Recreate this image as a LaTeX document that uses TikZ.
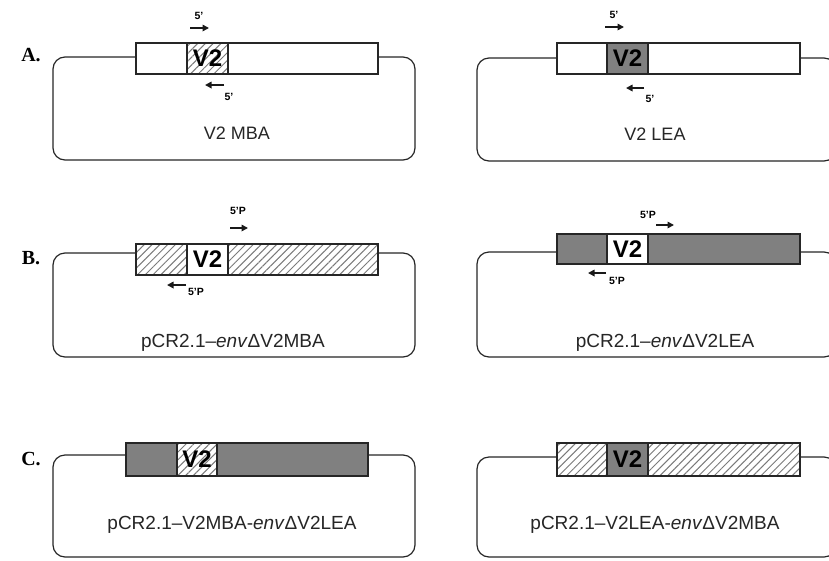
\documentclass[tikz,border=0pt]{standalone}
\usepackage{fontspec}
\setmainfont{Liberation Sans}
\newfontfamily\serifb{Liberation Serif}
\usetikzlibrary{patterns.meta,arrows.meta}
\definecolor{dgray}{HTML}{808080}
\definecolor{hgray}{HTML}{7A7A7A}
\tikzset{
  plasmid/.style={draw=black!85, line width=1.2pt, rounded corners=12pt, inner sep=0pt, outer sep=0pt, fill=white},
  seg/.style={draw=black!85, line width=1.8pt, inner sep=0pt, outer sep=0pt, anchor=west, fill=white},
  hatch/.style={preaction={fill=white}, pattern={Lines[angle=45,distance=5.5pt,line width=1pt]}, pattern color=hgray},
  dark/.style={fill=dgray},
  v2/.style={font=\fontsize{24}{24}\selectfont\bfseries},
  primer/.style={-{Triangle[length=6.5pt,width=6.5pt]}, line width=1.6pt, black!90},
  plab/.style={font=\fontsize{10.5}{10.5}\selectfont\bfseries, inner sep=0pt},
  cname/.style={font=\fontsize{19}{19}\selectfont, inner sep=0pt, text=black!85},
  panel/.style={font=\serifb\fontsize{20}{20}\selectfont\bfseries, inner sep=0pt}
}
\begin{document}
\begin{tikzpicture}[x=1pt,y=-1pt]
\useasboundingbox (0,0) rectangle (829,560);
\clip (0,0) rectangle (829,560);
% ---------------- panel labels
\node[panel] (lA) at (31,55) {A.};
\node[panel] (lB) at (31,258) {B.};
\node[panel] (lC) at (31,459) {C.};

% ---------------- A left
\node[plasmid, minimum width=362pt, minimum height=103pt] (pAL) at (234,108.5) {};
\node[seg, minimum width=51pt, minimum height=31pt] (aL1) at (136,58.5) {};
\node[seg, hatch, minimum width=41pt, minimum height=31pt, v2] (aL2) at (187,58.5) {V2};
\node[seg, minimum width=150pt, minimum height=31pt] (aL3) at (228,58.5) {};
\coordinate (aLf1) at (190,28); \coordinate (aLf2) at (209,28);
\draw[primer] (aLf1) -- (aLf2);
\node[plab] (aLfl) at (199,16) {5'};
\coordinate (aLr1) at (224,85); \coordinate (aLr2) at (205,85);
\draw[primer] (aLr1) -- (aLr2);
\node[plab] (aLrl) at (229,97) {5'};
\node[cname, font=\fontsize{18}{18}\selectfont] (tAL) at (237,133) {V2 MBA};

% ---------------- A right
\node[plasmid, minimum width=359pt, minimum height=103pt] (pAR) at (656.5,109.5) {};
\node[seg, minimum width=50pt, minimum height=31pt] (aR1) at (557,58.5) {};
\node[seg, dark, minimum width=41pt, minimum height=31pt, v2] (aR2) at (607,58.5) {V2};
\node[seg, minimum width=152pt, minimum height=31pt] (aR3) at (648,58.5) {};
\coordinate (aRf1) at (605,27); \coordinate (aRf2) at (624,27);
\draw[primer] (aRf1) -- (aRf2);
\node[plab] (aRfl) at (614,15) {5'};
\coordinate (aRr1) at (644,88); \coordinate (aRr2) at (626,88);
\draw[primer] (aRr1) -- (aRr2);
\node[plab] (aRrl) at (650,99) {5'};
\node[cname, font=\fontsize{18}{18}\selectfont] (tAR) at (655,134) {V2 LEA};

% ---------------- B left
\node[plasmid, minimum width=362pt, minimum height=104pt] (pBL) at (234,305) {};
\node[seg, hatch, minimum width=51pt, minimum height=31pt] (bL1) at (136,259.5) {};
\node[seg, minimum width=41pt, minimum height=31pt, v2] (bL2) at (187,259.5) {V2};
\node[seg, hatch, minimum width=150pt, minimum height=31pt] (bL3) at (228,259.5) {};
\node[plab] (bLfl) at (238,211) {5'P};
\coordinate (bLf1) at (230,228); \coordinate (bLf2) at (248,228);
\draw[primer] (bLf1) -- (bLf2);
\coordinate (bLr1) at (186,285); \coordinate (bLr2) at (167,285);
\draw[primer] (bLr1) -- (bLr2);
\node[plab] (bLrl) at (196,292) {5'P};
\node[cname] (tBL) at (233,343) {pCR2.1–\textit{env}ΔV2MBA};

% ---------------- B right
\node[plasmid, minimum width=359pt, minimum height=105pt] (pBR) at (656.5,304.5) {};
\node[seg, dark, minimum width=50pt, minimum height=30pt] (bR1) at (557,249) {};
\node[seg, minimum width=41pt, minimum height=30pt, v2] (bR2) at (607,249) {V2};
\node[seg, dark, minimum width=152pt, minimum height=30pt] (bR3) at (648,249) {};
\node[plab] (bRfl) at (648,215) {5'P};
\coordinate (bRf1) at (656,225); \coordinate (bRf2) at (674,225);
\draw[primer] (bRf1) -- (bRf2);
\coordinate (bRr1) at (606,273); \coordinate (bRr2) at (588,273);
\draw[primer] (bRr1) -- (bRr2);
\node[plab] (bRrl) at (617,281) {5'P};
\node[cname] (tBR) at (665,343) {pCR2.1–\textit{env}ΔV2LEA};

% ---------------- C left
\node[plasmid, minimum width=362pt, minimum height=102pt] (pCL) at (234,506) {};
\node[seg, dark, minimum width=51pt, minimum height=33pt] (cL1) at (126,459.5) {};
\node[seg, hatch, minimum width=40pt, minimum height=33pt, v2] (cL2) at (177,459.5) {V2};
\node[seg, dark, minimum width=151pt, minimum height=33pt] (cL3) at (217,459.5) {};
\node[cname] (tCL) at (232,525) {pCR2.1–V2MBA-\textit{env}ΔV2LEA};

% ---------------- C right
\node[plasmid, minimum width=359pt, minimum height=100pt] (pCR) at (656.5,507) {};
\node[seg, hatch, minimum width=50pt, minimum height=33pt] (cR1) at (557,459.5) {};
\node[seg, dark, minimum width=41pt, minimum height=33pt, v2] (cR2) at (607,459.5) {V2};
\node[seg, hatch, minimum width=152pt, minimum height=33pt] (cR3) at (648,459.5) {};
\node[cname] (tCR) at (655,525) {pCR2.1–V2LEA-\textit{env}ΔV2MBA};
\end{tikzpicture}
\end{document}
